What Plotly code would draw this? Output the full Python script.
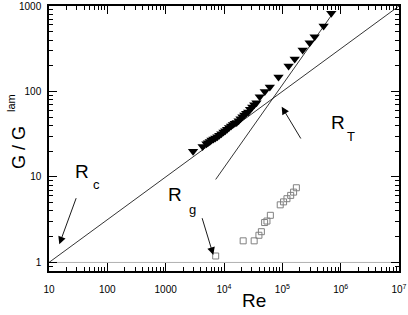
import plotly.graph_objects as go

# ---- data ----
tri_re = [2950, 4300, 5000, 5300, 5700, 6100, 6600, 7100, 7700, 8300, 9000, 9800,
          10500, 11300, 12200, 13200, 14200, 15300, 16500, 17800, 19200, 20700,
          22300, 24000, 26000, 28000, 30500, 33000, 36000, 41000, 50000, 61000,
          86000, 128000, 163000, 223000, 294000, 358000, 510000, 690000]
tri_g = [20.0, 22.7, 24.5, 25.2, 26.0, 27.0, 27.8, 28.6, 29.5, 30.8, 32.0, 33.5,
         34.8, 36.2, 37.8, 39.5, 41.0, 42.5, 43.5, 45.5, 48.0, 50.5,
         53.0, 55.5, 57.5, 62.0, 66.0, 70.0, 74.0, 87.0, 100, 113,
         148, 199, 240, 306, 372, 438, 583, 820]

sq_re = [7200, 21300, 32900, 39700, 43700, 49700, 54500, 62300, 92000, 105000,
         120000, 139000, 156000, 174000]
sq_g = [1.19, 1.79, 1.79, 2.08, 2.29, 2.93, 3.05, 3.56, 4.72, 5.11, 5.57, 6.09,
        6.65, 7.48]

rc_re = [10, 1e7]
rc_g = [1, 1000]
rt_re = [7200, 7.6e5]
rt_g = [9.35, 849]
lam_re = [10, 1e7]
lam_g = [1, 1]

x_tickvals = [10, 100, 1000, 1e4, 1e5, 1e6, 1e7]
x_ticktext = ["10", "100", "1000", "10<sup>4</sup>", "10<sup>5</sup>",
              "10<sup>6</sup>", "10<sup>7</sup>"]
y_tickvals = [1, 10, 100, 1000]
y_ticktext = ["1", "10", "100", "1000"]

FONT = "Liberation Sans, Arial, sans-serif"

fig = go.Figure()
fig.add_trace(go.Scatter(x=lam_re, y=lam_g, mode="lines",
                         line=dict(color="#b0b0b0", width=1), showlegend=False))
fig.add_trace(go.Scatter(x=rc_re, y=rc_g, mode="lines",
                         line=dict(color="black", width=0.8), showlegend=False))
fig.add_trace(go.Scatter(x=rt_re, y=rt_g, mode="lines",
                         line=dict(color="black", width=0.8), showlegend=False))
fig.add_trace(go.Scatter(x=tri_re, y=tri_g, mode="markers",
                         marker=dict(symbol="triangle-down", size=9, color="black",
                                     line=dict(width=0)), showlegend=False))
fig.add_trace(go.Scatter(x=sq_re, y=sq_g, mode="markers",
                         marker=dict(symbol="square-open", size=6, color="#808080",
                                     line=dict(width=1)), showlegend=False))

L, R, T, B = 49, 9, 6, 44
W, H = 408, 315
pw, ph = W - L - R, H - T - B


def px(x):
    return (x - L) / pw


def py(y):
    return (H - B - y) / ph


anns = []


def txt(s, x, y, size, angle=0):
    anns.append(dict(text=s, x=px(x), y=py(y), xref="paper", yref="paper",
                     showarrow=False, xanchor="center", yanchor="middle",
                     textangle=angle, font=dict(family=FONT, size=size, color="black")))


def arrow(hx, hy, tx, ty):
    anns.append(dict(text="", x=px(hx), y=py(hy), xref="paper", yref="paper",
                     ax=tx - hx, ay=ty - hy, axref="pixel", ayref="pixel",
                     showarrow=True, arrowhead=2, arrowsize=1.7, arrowwidth=0.9,
                     arrowcolor="black"))


txt("R", 81.5, 171.5, 19)
txt("c", 96.5, 184, 13)
arrow(59.3, 244.3, 76.7, 196.7)
txt("R", 174.5, 194.5, 19)
txt("g", 192.5, 209, 13)
arrow(213.3, 255, 201.7, 216.7)
txt("R", 338, 122.5, 19)
txt("T", 350.5, 136, 13)
arrow(281.7, 106.7, 301.7, 140)
txt("G / G", 19, 148, 18, -90)
txt("lam", 11, 103, 11, -90)
txt("Re", 254, 300, 19)

axis_common = dict(type="log", showgrid=False, zeroline=False, showline=True,
                   automargin=False,
                   linecolor="black", linewidth=1.5, mirror="ticks", ticks="inside",
                   ticklen=8, tickwidth=1, tickcolor="black",
                   ticklabeloverflow="allow",
                   tickfont=dict(family=FONT, size=10, color="black"),
                   minor=dict(ticks="inside", ticklen=4, tickwidth=1,
                              tickcolor="black", dtick="D1", showgrid=False))

fig.update_xaxes(**axis_common, range=[1, 7], tickvals=x_tickvals,
                 ticktext=x_ticktext, ticklabelstandoff=8)
fig.update_yaxes(**axis_common, range=[-0.1, 3], tickvals=y_tickvals,
                 ticktext=y_ticktext, ticklabelstandoff=4)

fig.update_layout(width=W, height=H, margin=dict(l=L, r=R, t=T, b=B),
                  plot_bgcolor="white", paper_bgcolor="white",
                  font=dict(family=FONT), annotations=anns, showlegend=False)

fig.write_html("out.html", config={"displayModeBar": False},
               post_script="document.body.style.margin='0px';document.body.style.padding='0px';")
